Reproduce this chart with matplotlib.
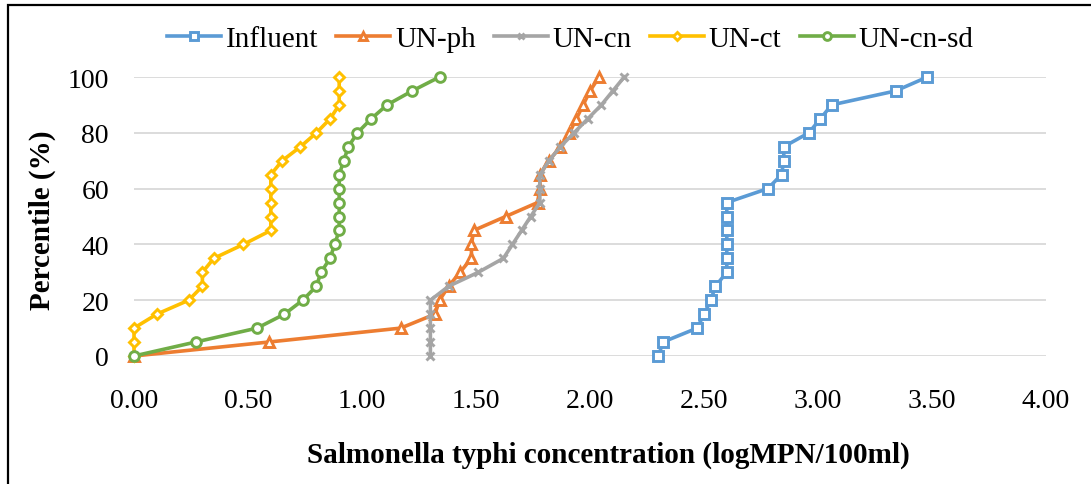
import matplotlib
matplotlib.use("Agg")
import matplotlib.pyplot as plt
from matplotlib.patches import Rectangle

plt.rcParams['font.family'] = ['Liberation Serif', 'DejaVu Serif']

percentile = [0, 5, 10, 15, 20, 25, 30, 35, 40, 45, 50,
              55, 60, 65, 70, 75, 80, 85, 90, 95, 100]

influent = [2.30, 2.32, 2.47, 2.50, 2.53, 2.55, 2.60, 2.60, 2.60, 2.60, 2.60,
            2.60, 2.78, 2.84, 2.85, 2.85, 2.96, 3.01, 3.06, 3.34, 3.48]
un_ph = [0.00, 0.59, 1.17, 1.32, 1.34, 1.38, 1.43, 1.48, 1.48, 1.49, 1.63,
         1.77, 1.78, 1.78, 1.82, 1.87, 1.91, 1.94, 1.97, 2.00, 2.04]
un_cn = [1.30, 1.30, 1.30, 1.30, 1.30, 1.38, 1.51, 1.62, 1.66, 1.70, 1.74,
         1.78, 1.78, 1.78, 1.82, 1.87, 1.93, 1.99, 2.05, 2.10, 2.15]
un_ct = [0.00, 0.00, 0.00, 0.10, 0.24, 0.30, 0.30, 0.35, 0.48, 0.60, 0.60,
         0.60, 0.60, 0.60, 0.65, 0.73, 0.80, 0.86, 0.90, 0.90, 0.90]
un_cn_sd = [0.00, 0.27, 0.54, 0.66, 0.74, 0.80, 0.82, 0.86, 0.88, 0.90, 0.90,
            0.90, 0.90, 0.90, 0.92, 0.94, 0.98, 1.04, 1.11, 1.22, 1.34]

series = [
    ("Influent", influent, "#5B9BD5", "s", 7),
    ("UN-ph", un_ph, "#ED7D31", "^", 7),
    ("UN-cn", un_cn, "#A5A5A5", "x", 6),
    ("UN-ct", un_ct, "#FFC000", "D", 5),
    ("UN-cn-sd", un_cn_sd, "#70AD47", "o", 7),
]

fig = plt.figure(figsize=(10.91, 4.85), dpi=100)
ax = fig.add_axes([134 / 1091, 128 / 485, 912 / 1091, 279 / 485])

for name, vals, col, mk, ms in series:
    ax.plot(vals, percentile, color=col, lw=2.6, marker=mk, ms=ms,
            mfc="white", mec=col, mew=2.1, label=name, clip_on=False)

ax.set_xlim(0, 4)
ax.set_ylim(0, 100)
ax.set_xticks([0, 0.5, 1, 1.5, 2, 2.5, 3, 3.5, 4])
ax.set_xticklabels(["%.2f" % v for v in ax.get_xticks()])
ax.set_yticks(range(0, 101, 20))
ax.grid(axis="y", color="#D9D9D9", lw=1.3)
ax.set_axisbelow(True)
for s in ax.spines.values():
    s.set_visible(False)
ax.tick_params(length=0, labelsize=20)
ax.tick_params(axis="x", pad=23)
ax.tick_params(axis="y", pad=18)

fig.text(608 / 1091, 1 - 455 / 485,
         "Salmonella typhi concentration (logMPN/100ml)",
         ha="center", va="center", fontsize=21, fontweight="bold")
fig.text(42 / 1091, 1 - 220 / 485, "Percentile (%)", rotation=90,
         ha="center", va="center", fontsize=21, fontweight="bold")

fig.legend(loc="center", bbox_to_anchor=(570 / 1091, 1 - 40 / 485), ncol=5,
           frameon=False, fontsize=21, handlelength=1.85, handletextpad=0.17,
           columnspacing=0.62, borderaxespad=0, markerscale=0.8)

fig.patches.append(Rectangle((8 / 1091, -0.1), 1.2, 1.1 - 6 / 485,
                             transform=fig.transFigure, fill=False,
                             ec="black", lw=1.6))

fig.savefig("out.png", dpi=100)
